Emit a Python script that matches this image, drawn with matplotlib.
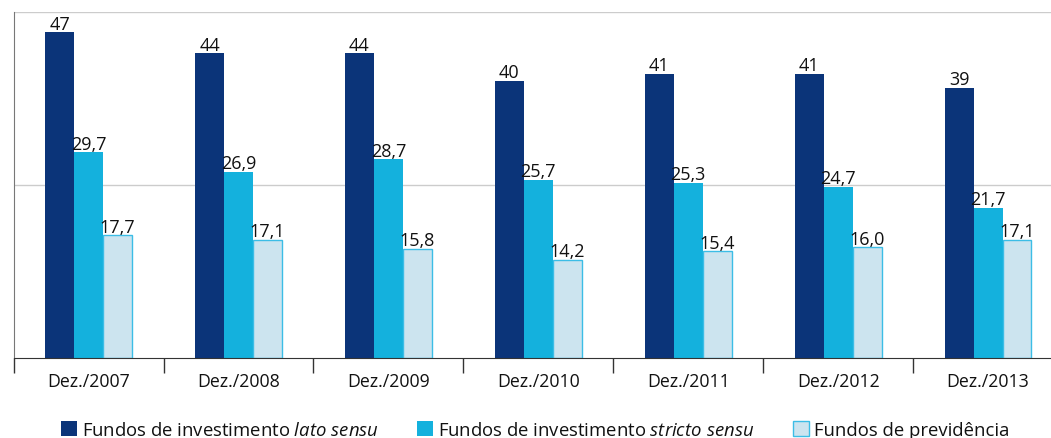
import numpy as np
import matplotlib
matplotlib.use("Agg")
import matplotlib.pyplot as plt
from matplotlib.patches import Patch

plt.rcParams['font.family'] = ['Open Sans', 'DejaVu Sans']
plt.rcParams['mathtext.fontset'] = 'custom'
plt.rcParams['mathtext.rm'] = 'Open Sans'
plt.rcParams['mathtext.it'] = 'Open Sans:italic'

# ===== dados =====
anos = ['Dez./2007', 'Dez./2008', 'Dez./2009', 'Dez./2010',
        'Dez./2011', 'Dez./2012', 'Dez./2013']
lato = [47, 44, 44, 40, 41, 41, 39]
stricto = [29.7, 26.9, 28.7, 25.7, 25.3, 24.7, 21.7]
previdencia = [17.7, 17.1, 15.8, 14.2, 15.4, 16.0, 17.1]

rotulos = [r'Fundos de investimento $\it{lato\ sensu}$',
           r'Fundos de investimento $\it{stricto\ sensu}$',
           'Fundos de previdência']

c_escuro = '#0b3479'
c_ciano = '#14b1dd'
c_claro = '#cce4ef'
c_borda = '#3cbde6'

fig = plt.figure(figsize=(10.51, 4.39), dpi=100)
ax = fig.add_axes([0.013, 0.182, 0.987, 0.7895])

x = np.arange(len(anos))
w = 0.193

ax.bar(x - w, lato, w, color=c_escuro)
ax.bar(x, stricto, w, color=c_ciano)
ax.bar(x + w, previdencia, w, color=c_claro, edgecolor=c_borda, linewidth=1)

def fmt(v):
    if isinstance(v, int):
        return str(v)
    return f'{v:.1f}'.replace('.', ',')

for serie, off in [(lato, -w), (stricto, 0), (previdencia, w)]:
    for xi, v in zip(x, serie):
        ax.annotate(fmt(v), (xi + off, v), xytext=(0, 2.5),
                    textcoords='offset points', ha='center', va='baseline',
                    fontsize=13, color='#111111')

ax.set_xlim(-0.5, 6.42)
ax.set_ylim(0, 50)

# grade
ax.set_yticks([25, 50])
ax.yaxis.grid(True, color='#cccccc', linewidth=1)
ax.tick_params(axis='y', left=False, labelleft=False)
ax.set_axisbelow(True)

# ticks nas fronteiras, rotulos no centro
ax.set_xticks(np.arange(-0.5, 6.5, 1))
ax.set_xticklabels([])
ax.tick_params(axis='x', which='major', length=11, width=1, color='#333333',
               direction='out')
ax.set_xticks(x, minor=True)
ax.set_xticklabels(anos, minor=True, fontsize=12.8, color='#111111')
ax.tick_params(axis='x', which='minor', length=0, pad=10)

for s in ['top', 'right']:
    ax.spines[s].set_visible(False)
ax.spines['bottom'].set_color('#333333')
ax.spines['left'].set_color('#777777')

handles = [Patch(facecolor=c_escuro),
           Patch(facecolor=c_ciano),
           Patch(facecolor=c_claro, edgecolor=c_borda)]
fig.legend(handles, rotulos, loc='center', bbox_to_anchor=(0.509, 0.018),
           ncol=3, frameon=False, fontsize=13.3, handlelength=0.85,
           handleheight=0.85, handletextpad=0.27, columnspacing=2.1,
           borderpad=0, borderaxespad=0, labelcolor='#111111')

fig.savefig('out.png', dpi=100)
